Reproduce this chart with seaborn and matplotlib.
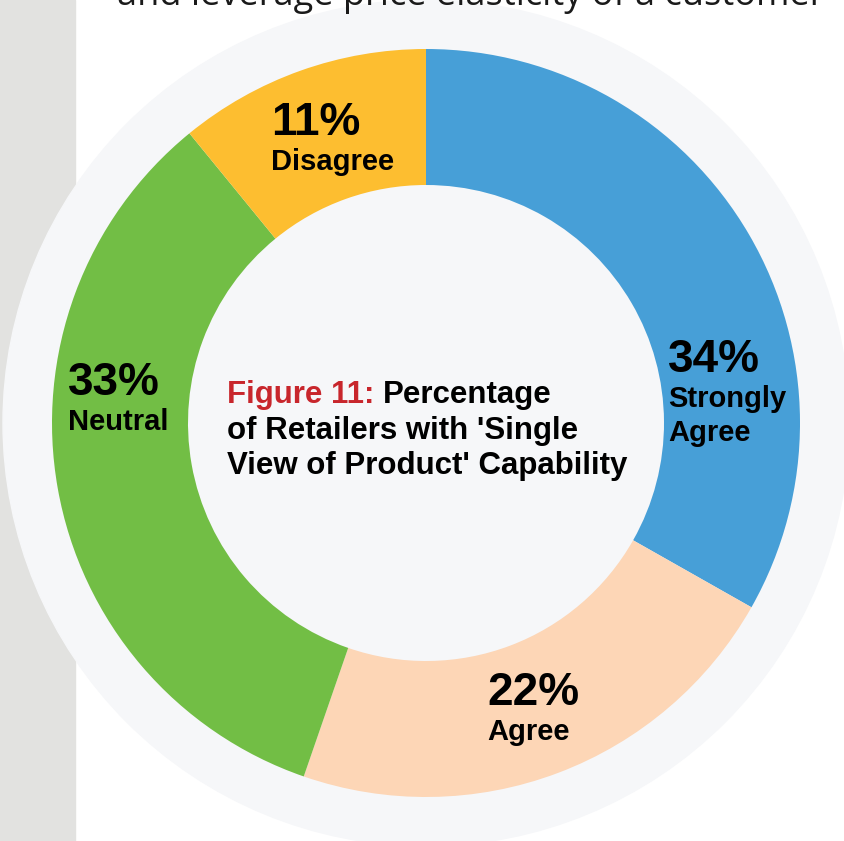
import matplotlib
matplotlib.use("Agg")
import matplotlib.pyplot as plt
import seaborn as sns
from matplotlib.patches import Circle, Rectangle

# Datos
categorias = ['Strongly Agree', 'Agree', 'Neutral', 'Disagree']
porcentajes = [33.2, 22.1, 33.8, 10.9]   # tamaño de los sectores tal como se dibujan
etiquetas_pct = ['34%', '22%', '33%', '11%']
etiquetas_cat = ['Strongly\nAgree', 'Agree', 'Neutral', 'Disagree']
colores = ['#479fd7', '#fdd6b6', '#72be45', '#fdbe30']

TITULO_ROJO = 'Figure 11: '
TITULO = ['Percentage', "of Retailers with 'Single", "View of Product' Capability"]
TEXTO_ARRIBA = 'and leverage price elasticity of a customer'

# Geometría en pixeles (y hacia arriba)
W, H = 844, 841
CX, CY = 426, H - 423
R_EXT = 374
R_FONDO = 423
ANCHO = 136

sns.set_theme(style='white')
plt.rcParams['font.family'] = ['Liberation Sans', 'DejaVu Sans']

fig = plt.figure(figsize=(W / 100, H / 100), dpi=100)
ax = fig.add_axes([0, 0, 1, 1])

# Barra gris lateral (debajo del círculo)
ax.add_patch(Rectangle((0, 0), 75, H, color='#e2e2e0', zorder=0))

# Fondo circular claro
ax.add_patch(Circle((CX, CY), R_FONDO, color='#f6f7f9', zorder=0.5))

# Donut
ax.pie(porcentajes, colors=colores, startangle=90, counterclock=False,
       radius=R_EXT, center=(CX, CY),
       wedgeprops=dict(width=ANCHO, linewidth=0, zorder=1), frame=True)
ax.set_xlim(0, W)
ax.set_ylim(0, H)
ax.set_aspect('equal')
ax.axis('off')

# Etiquetas (x izquierda, línea base del porcentaje en pixeles)
pos_etiquetas = [(668, 372), (487, 705), (68, 395), (271, 135)]
for pct, cat, (x, y) in zip(etiquetas_pct, etiquetas_cat, pos_etiquetas):
    ax.text(x, H - y, pct, fontsize=33, fontweight='bold', color='black',
            ha='left', va='baseline', zorder=6)
    for i, linea in enumerate(cat.split('\n')):
        ax.text(x, H - y - 35 - 34 * i, linea, fontsize=21, fontweight='bold',
                color='black', ha='left', va='baseline', zorder=6)

# Título central
fig.canvas.draw()
rojo = ax.text(227, H - 403, TITULO_ROJO, fontsize=22.5, fontweight='bold',
               color='#c8262c', ha='left', va='baseline', zorder=6)
bb = rojo.get_window_extent(renderer=fig.canvas.get_renderer())
x_fin = ax.transData.inverted().transform((bb.x1, bb.y0))[0]
ax.text(x_fin, H - 403, TITULO[0], fontsize=22.5, fontweight='bold',
        color='black', ha='left', va='baseline', zorder=6)
for i, linea in enumerate(TITULO[1:]):
    ax.text(227, H - 439 - 35 * i, linea, fontsize=22.5, fontweight='bold',
            color='black', ha='left', va='baseline', zorder=6)

# Texto superior cortado
ax.text(117, H - 5, TEXTO_ARRIBA, fontsize=26, color='#1a1a1a',
        family=['Open Sans', 'DejaVu Sans'], ha='left', va='baseline', zorder=6)

fig.savefig('out.png', dpi=100)
plt.close(fig)
